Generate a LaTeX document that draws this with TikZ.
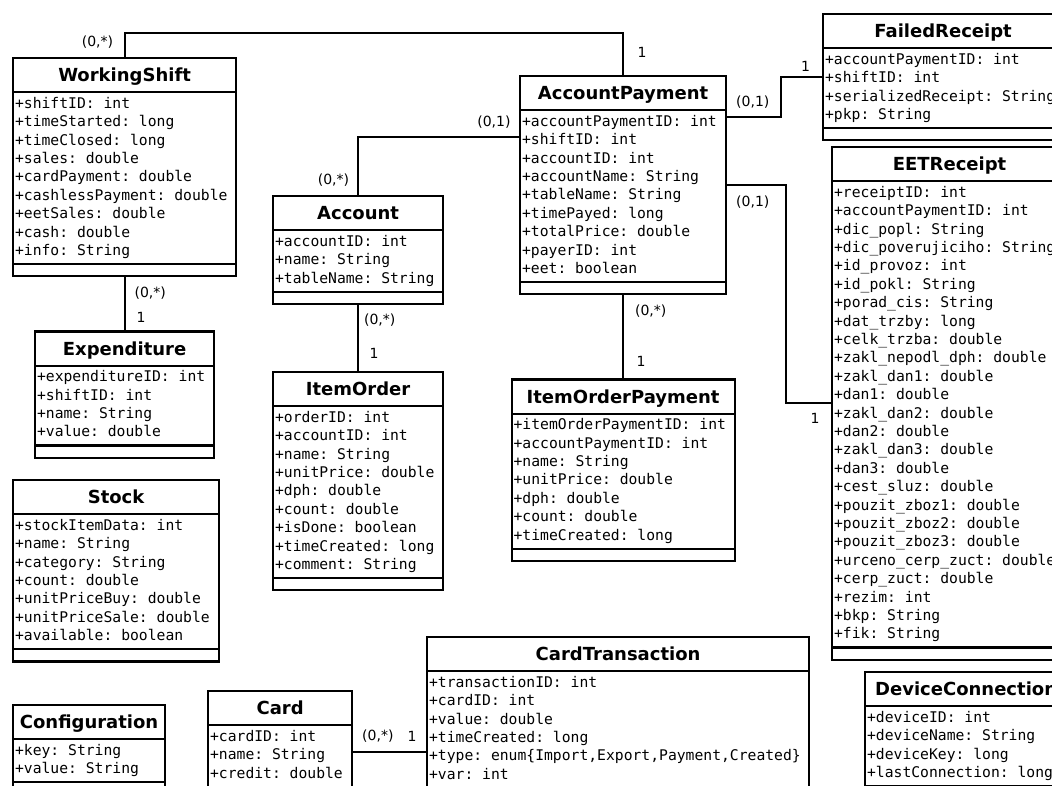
\documentclass[tikz,border=0pt]{standalone}
\usepackage{fontspec}
\setmainfont{DejaVu Sans}
\setmonofont{DejaVu Sans Mono}
\usepackage{tikz}
\usetikzlibrary{shapes.multipart, positioning}

\newcommand{\classname}[1]{\rule[-7.4pt]{0pt}{28pt}{\rmfamily\bfseries\fontsize{18}{20}\selectfont #1}}
\newcommand{\attrlist}[1]{\begin{tabular}{@{}l@{}}#1\end{tabular}}
\newcommand{\nomethods}{\rule{0pt}{6pt}}

\tikzset{
  umlclass/.style={draw, line width=2.2pt, rectangle split, rectangle split parts=3,
    rectangle split part align={center,left,left}, inner xsep=2pt, inner ysep=2pt,
    anchor=north west, font=\fontsize{14.7}{18.4}\selectfont\ttfamily},
  assoc/.style={line width=2pt},
  lbl/.style={inner sep=0pt, font=\fontsize{14}{16}\selectfont}
}

\begin{document}
\begin{tikzpicture}[x=1pt, y=-1pt]
\useasboundingbox (0,0) rectangle (1052,785);
\clip (0,0) rectangle (1052,785);

% left column
\node[umlclass, minimum width=223pt] (ws) at (12,57) {\classname{WorkingShift}
  \nodepart{two}\attrlist{+shiftID: int\\+timeStarted: long\\+timeClosed: long\\+sales: double\\+cardPayment: double\\+cashlessPayment: double\\+eetSales: double\\+cash: double\\+info: String}
  \nodepart{three}\nomethods};
\node[umlclass, minimum width=179pt, below=53pt of ws] (exp) {\classname{Expenditure}
  \nodepart{two}\attrlist{+expenditureID: int\\+shiftID: int\\+name: String\\+value: double}
  \nodepart{three}\nomethods};
\node[umlclass, minimum width=206pt] (stock) at (12,479) {\classname{Stock}
  \nodepart{two}\attrlist{+stockItemData: int\\+name: String\\+category: String\\+count: double\\+unitPriceBuy: double\\+unitPriceSale: double\\+available: boolean}
  \nodepart{three}\nomethods};
\node[umlclass, minimum width=152pt] (conf) at (12,704) {\classname{Configuration}
  \nodepart{two}\attrlist{+key: String\\+value: String}
  \nodepart{three}\nomethods};

% middle column
\node[umlclass, minimum width=170pt] (account) at (272,195) {\classname{Account}
  \nodepart{two}\attrlist{+accountID: int\\+name: String\\+tableName: String}
  \nodepart{three}\nomethods};
\node[umlclass, minimum width=170pt, below=66pt of account] (itemorder) {\classname{ItemOrder}
  \nodepart{two}\attrlist{+orderID: int\\+accountID: int\\+name: String\\+unitPrice: double\\+dph: double\\+count: double\\+isDone: boolean\\+timeCreated: long\\+comment: String}
  \nodepart{three}\nomethods};
\node[umlclass, minimum width=144pt] (card) at (207,690) {\classname{Card}
  \nodepart{two}\attrlist{+cardID: int\\+name: String\\+credit: double}
  \nodepart{three}\nomethods};
\node[umlclass, minimum width=382pt] (cardtx) at (426,636) {\classname{CardTransaction}
  \nodepart{two}\attrlist{+transactionID: int\\+cardID: int\\+value: double\\+timeCreated: long\\+type: enum\{Import,Export,Payment,Created\}\\+var: int}
  \nodepart{three}\nomethods};

\node[umlclass, minimum width=206pt] (ap) at (519,75) {\classname{AccountPayment}
  \nodepart{two}\attrlist{+accountPaymentID: int\\+shiftID: int\\+accountID: int\\+accountName: String\\+tableName: String\\+timePayed: long\\+totalPrice: double\\+payerID: int\\+eet: boolean}
  \nodepart{three}\nomethods};
\node[umlclass, minimum width=223pt, below=83pt of ap] (iop) {\classname{ItemOrderPayment}
  \nodepart{two}\attrlist{+itemOrderPaymentID: int\\+accountPaymentID: int\\+name: String\\+unitPrice: double\\+dph: double\\+count: double\\+timeCreated: long}
  \nodepart{three}\nomethods};

% right column
\node[umlclass, minimum width=240pt] (failed) at (822,13) {\classname{FailedReceipt}
  \nodepart{two}\attrlist{+accountPaymentID: int\\+shiftID: int\\+serializedReceipt: String\\+pkp: String}
  \nodepart{three}\nomethods};
\node[umlclass, minimum width=235pt] (eet) at (831,146) {\classname{EETReceipt}
  \nodepart{two}\attrlist{+receiptID: int\\+accountPaymentID: int\\+dic\_popl: String\\+dic\_poverujiciho: String\\+id\_provoz: int\\+id\_pokl: String\\+porad\_cis: String\\+dat\_trzby: long\\+celk\_trzba: double\\+zakl\_nepodl\_dph: double\\+zakl\_dan1: double\\+dan1: double\\+zakl\_dan2: double\\+dan2: double\\+zakl\_dan3: double\\+dan3: double\\+cest\_sluz: double\\+pouzit\_zboz1: double\\+pouzit\_zboz2: double\\+pouzit\_zboz3: double\\+urceno\_cerp\_zuct: double\\+cerp\_zuct: double\\+rezim: int\\+bkp: String\\+fik: String}
  \nodepart{three}\nomethods};
\node[umlclass, minimum width=202pt] (devconn) at (864,671) {\classname{DeviceConnection}
  \nodepart{two}\attrlist{+deviceID: int\\+deviceName: String\\+deviceKey: long\\+lastConnection: long}
  \nodepart{three}\nomethods};

% associations
\draw[assoc] (ws.north) node[lbl, above left=8pt and 10.5pt] {(0,*)}
  -- ++(0,-24) -| (ap.north) node[lbl, above right=17pt and 13.5pt] {1};
\draw[assoc] ([yshift=-42pt]ap.north east) node[lbl, above right=8pt and 8pt] {(0,1)}
  -- ++(54,0) |- (failed.west) node[lbl, above left=5pt and 11pt] {1};
\draw[assoc] (ap.east) node[lbl, below right=10pt and 8pt] {(0,1)}
  -- ++(59,0) |- (eet.west) node[lbl, below left=9pt and 10.5pt] {1};
\draw[assoc] (account.north) node[lbl, above left=8pt and 8pt] {(0,*)}
  |- ([yshift=-62pt]ap.north west) node[lbl, above left=8pt and 7.5pt] {(0,1)};
\draw[assoc] (account.south) node[lbl, below right=8pt and 5pt] {(0,*)}
  -- (itemorder.north) node[lbl, above right=12pt and 10.5pt] {1};
\draw[assoc] (ws.south) node[lbl, below right=8pt and 9pt] {(0,*)}
  -- (exp.north) node[lbl, above right=7pt and 11pt] {1};
\draw[assoc] (ap.south) node[lbl, below right=8pt and 11pt] {(0,*)}
  -- (iop.north) node[lbl, above right=11pt and 12.5pt] {1};
\coordinate (cardlink) at ([yshift=-62pt]card.north east);
\draw[assoc] (cardlink) node[lbl, above right=9pt and 8pt] {(0,*)}
  -- (cardlink -| cardtx.west) node[lbl, above left=10pt and 8.5pt] {1};
\end{tikzpicture}
\end{document}
